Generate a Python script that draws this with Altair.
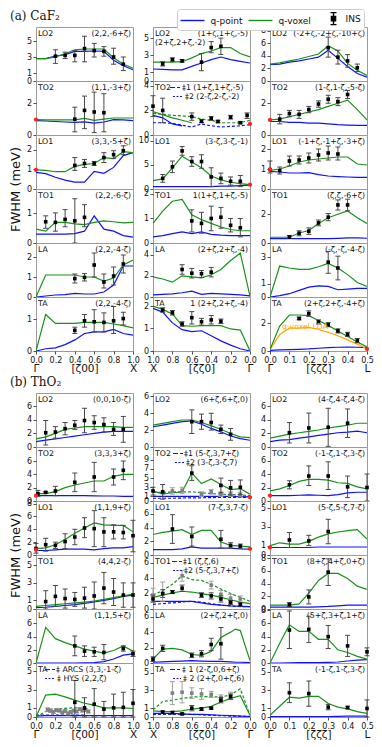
import altair as alt
import pandas as pd

FONT = "DejaVu Sans"
SERIF = "DejaVu Serif"
BLUE = "#1010ff"
GREEN = "#179117"
ORANGE = "#ffa500"
RED = "#ff2020"
W, H = 97, 54

# zeta grids along the three paths
Z_GX = [0.0, 0.1, 0.2, 0.3, 0.4, 0.5, 0.6, 0.7, 0.8, 0.9, 1.0]
Z_XG = [1.0, 0.9, 0.8, 0.7, 0.6, 0.5, 0.4, 0.3, 0.2, 0.1, 0.0]
Z_GL = [0.0, 0.05, 0.1, 0.15, 0.2, 0.25, 0.3, 0.35, 0.4, 0.45, 0.5]

LEG_NAMES = ["q-point", "q-voxel", "INS"]

# ================= (a) CaF2 =================
A1_LO2_P = [2.8, 2.8, 3.1, 3.3, 3.7, 3.7, 3.75, 3.7, 2.6, 1.9, 1.4]
A1_LO2_V = [2.8, 2.8, 3.0, 3.4, 3.9, 4.0, 4.0, 4.0, 2.9, 2.1, 1.6]
A1_LO2_INS = [(0.2, 3.1, 2.2, 3.9), (0.3, 3.2, 2.8, 3.6), (0.4, 3.2, 2.4, 3.8), (0.5, 4.05, 2.4, 5.6),
              (0.6, 3.8, 3.0, 4.7), (0.7, 3.7, 3.1, 4.3), (0.8, 3.0, 2.1, 4.1), (0.9, 2.1, 1.3, 3.0)]
A1_TO2_P = [0.9, 0.88, 0.85, 0.82, 0.8, 0.82, 0.75, 0.82, 0.97, 0.95, 0.9]
A1_TO2_V = [0.97, 0.95, 0.95, 0.95, 0.95, 1.05, 0.92, 1.0, 1.07, 1.07, 1.07]
A1_TO2_INS = [(0.4, 1.0, 0.2, 1.75), (0.5, 1.55, 0.4, 2.45), (0.6, 1.45, 0.15, 2.7), (0.7, 1.4, 0.2, 2.6)]
A1_TO2_RED = [(0.0, 0.97)]
A1_LO1_P = [0.85, 0.78, 0.6, 0.45, 0.35, 0.35, 0.9, 0.8, 1.1, 1.7, 1.85]
A1_LO1_V = [0.97, 0.95, 0.88, 0.88, 1.15, 1.25, 1.3, 1.6, 1.55, 1.9, 1.85]
A1_LO1_INS = [(0.4, 1.2, 0.95, 1.6), (0.5, 1.3, 1.1, 1.5), (0.6, 1.3, 1.2, 1.4), (0.7, 1.6, 1.35, 1.85),
              (0.8, 1.75, 1.55, 1.95), (0.9, 1.95, 1.75, 2.2)]
A1_LO1_RED = [(0.0, 0.97)]
A1_TO1_P = [0.3, 0.3, 0.3, 0.3, 0.32, 0.4, 0.92, 0.47, 0.4, 0.25, 0.2]
A1_TO1_V = [0.47, 0.4, 0.7, 0.7, 0.65, 0.62, 0.7, 0.75, 0.72, 0.68, 0.7]
A1_TO1_INS = [(0.1, 0.72, 0.5, 0.92), (0.2, 0.7, 0.4, 1.02), (0.3, 0.8, 0.55, 1.13), (0.4, 0.75, 0.0, 1.5),
              (0.5, 0.87, 0.55, 1.3)]
A1_LA_P = [0.0, 0.05, 0.1, 0.12, 0.18, 0.15, 0.15, 0.25, 0.6, 1.55, 1.55]
A1_LA_V = [0.0, 1.1, 1.1, 1.1, 1.1, 1.0, 1.0, 0.8, 0.95, 1.6, 1.85]
A1_LA_INS = [(0.4, 0.92, 0.7, 1.15), (0.5, 0.98, 0.8, 1.17), (0.6, 1.6, 1.0, 2.2), (0.7, 0.75, 0.45, 1.15),
             (0.8, 1.05, 0.6, 1.5), (0.9, 1.65, 1.2, 2.1)]
A1_TA_P = [0.0, 0.07, 0.1, 0.2, 0.35, 0.55, 0.6, 0.6, 0.68, 0.55, 0.5]
A1_TA_V = [0.0, 1.15, 0.87, 0.87, 0.87, 0.9, 0.9, 0.9, 0.85, 0.8, 0.73]
A1_TA_INS = [(0.4, 0.65, 0.55, 0.75), (0.5, 0.95, 0.75, 1.15), (0.6, 0.92, 0.6, 1.3), (0.7, 0.9, 0.6, 1.2),
             (0.8, 0.95, 0.55, 1.4), (0.9, 1.02, 0.82, 1.22)]

A2_LO2_P = [1.4, 1.35, 1.3, 1.3, 1.7, 2.1, 2.5, 2.8, 2.5, 2.3, 2.1]
A2_LO2_V = [2.2, 2.2, 2.2, 2.25, 2.7, 3.2, 3.5, 3.9, 3.9, 3.2, 2.8]
A2_LO2_INS = [(0.9, 2.0, 1.75, 2.25), (0.8, 2.5, 2.3, 2.7), (0.7, 2.35, 2.2, 2.5), (0.5, 2.2, 1.2, 3.2),
              (0.4, 3.9, 3.3, 4.6), (0.3, 4.05, 3.1, 5.0)]
A2_TO2_Z1 = [1.0, 0.9, 0.8, 0.7, 0.6]
A2_TO2_V1 = [1.9, 1.65, 1.4, 1.2, 1.0]
A2_TO2_Z1P = [1.0, 0.9, 0.8, 0.7]
A2_TO2_P1 = [1.6, 1.4, 0.9, 0.75]
A2_TO2_V2 = [1.75, 1.7, 1.6, 1.55, 1.5, 1.3, 1.2, 1.0, 1.0, 1.0, 1.2]
A2_TO2_P2 = [1.0, 1.0, 0.95, 0.8, 0.65, 0.9, 0.75, 0.65, 0.7, 0.75, 0.85]
A2_TO2_INS = [(1.0, 2.35, 1.5, 3.2), (0.9, 2.0, 1.0, 3.0), (0.6, 1.5, 1.2, 1.8), (0.5, 1.12, 1.0, 1.25),
              (0.4, 1.35, 1.2, 1.5), (0.33, 1.1, 1.0, 1.2), (0.2, 1.45, 1.3, 1.6), (0.1, 1.0, 0.92, 1.1),
              (0.03, 1.6, 1.35, 1.8)]
A2_TO2_RED = [(0.0, 0.9)]
A2_LO1_P = [0.5, 0.5, 0.5, 0.5, 0.5, 0.5, 0.5, 0.6, 0.6, 0.7, 0.8]
A2_LO1_V = [1.75, 2.1, 4.4, 6.8, 5.6, 4.4, 2.7, 1.9, 1.4, 1.1, 0.9]
A2_LO1_INS = [(0.9, 2.2, 1.4, 3.0), (0.8, 4.6, 3.4, 5.8), (0.7, 7.9, 7.0, 8.8), (0.6, 5.7, 4.7, 6.7),
              (0.5, 5.7, 4.3, 7.1), (0.4, 2.5, 0.5, 4.4), (0.3, 2.2, 1.1, 3.3), (0.2, 1.6, 0.8, 2.5),
              (0.1, 1.6, 0.5, 2.8)]
A2_LO1_RED = [(0.0, 0.9)]
A2_TO1_P = [0.25, 0.3, 0.38, 0.45, 0.38, 0.45, 0.35, 0.32, 0.3, 0.3, 0.3]
A2_TO1_V = [0.8, 1.3, 1.7, 1.78, 1.15, 0.95, 0.8, 0.65, 0.55, 0.5, 0.5]
A2_TO1_INS = [(0.6, 0.9, 0.45, 1.35), (0.5, 0.8, 0.4, 1.25), (0.4, 1.0, 0.5, 1.5), (0.3, 1.05, 0.6, 1.45),
              (0.2, 0.72, 0.45, 1.0), (0.1, 0.62, 0.25, 1.0)]
A2_LA_P = [0.2, 0.25, 0.3, 0.4, 0.55, 0.25, 0.35, 0.3, 0.25, 0.2, 0.1]
A2_LA_V = [1.9, 1.7, 1.4, 2.0, 1.9, 1.8, 2.1, 2.6, 3.45, 4.15, 0.05]
A2_LA_INS = [(0.7, 2.6, 2.15, 3.05), (0.6, 2.25, 1.8, 2.7), (0.5, 2.2, 1.85, 2.5), (0.4, 2.35, 1.9, 2.8)]
A2_TA_P = [1.9, 1.73, 1.25, 0.95, 0.86, 0.9, 0.68, 0.45, 0.26, 0.1, 0.0]
A2_TA_V = [2.0, 1.85, 1.65, 1.13, 1.1, 1.13, 1.13, 1.13, 0.98, 0.93, 0.0]
A2_TA_INS = [(0.9, 1.82, 1.72, 1.92), (0.8, 1.7, 1.6, 1.8), (0.7, 1.2, 1.1, 1.3), (0.6, 1.48, 1.2, 1.75),
             (0.5, 1.3, 1.15, 1.45), (0.4, 1.38, 1.2, 1.58), (0.3, 1.32, 1.22, 1.42)]

A3_LO2_P = [2.6, 2.7, 3.0, 3.2, 3.5, 3.8, 4.9, 3.6, 2.3, 1.2, 0.6]
A3_LO2_V = [2.7, 2.9, 3.2, 3.5, 3.9, 4.3, 5.6, 4.8, 2.8, 1.7, 0.9]
A3_LO2_INS = [(0.3, 5.3, 3.8, 7.0), (0.35, 3.8, 2.7, 4.9), (0.4, 3.2, 2.2, 4.2), (0.45, 2.1, 1.5, 2.7)]
A3_TO2_P = [0.85, 0.85, 0.8, 0.8, 0.75, 0.75, 0.7, 0.65, 0.62, 0.6, 0.6]
A3_TO2_V = [0.95, 1.0, 1.15, 1.3, 1.45, 1.6, 1.8, 2.0, 2.2, 1.6, 0.95]
A3_TO2_INS = [(0.05, 1.0, 0.7, 1.3), (0.1, 1.35, 1.15, 1.55), (0.15, 1.3, 1.05, 1.55), (0.2, 1.6, 1.4, 1.8),
              (0.25, 1.95, 1.75, 2.15), (0.3, 2.25, 2.0, 2.5), (0.35, 2.1, 1.85, 2.35), (0.4, 2.55, 2.3, 2.8)]
A3_TO2_RED = [(0.0, 0.95)]
A3_LO1_P = [0.88, 0.85, 0.8, 0.8, 0.82, 0.72, 0.65, 0.62, 0.6, 0.58, 0.58]
A3_LO1_V = [0.93, 1.0, 1.15, 1.35, 1.45, 1.5, 1.55, 1.6, 1.6, 1.25, 1.2]
A3_LO1_INS = [(0.0, 0.97, 0.8, 1.4), (0.05, 0.92, 0.75, 1.1), (0.1, 1.4, 1.15, 1.65), (0.15, 1.45, 1.25, 1.65),
              (0.2, 1.55, 1.3, 1.8), (0.25, 1.7, 1.4, 2.0), (0.3, 1.8, 1.45, 2.15), (0.35, 1.75, 1.45, 2.1)]
A3_LO1_RED = [(0.0, 0.97)]
A3_TO1_P = [0.3, 0.3, 0.3, 0.3, 0.3, 0.3, 0.3, 0.32, 0.35, 0.35, 0.33]
A3_TO1_V = [0.4, 0.4, 0.4, 0.7, 0.87, 1.36, 1.76, 2.0, 2.23, 1.76, 1.36]
A3_TO1_INS = [(0.1, 0.42, 0.32, 0.52), (0.15, 0.68, 0.5, 0.85), (0.2, 0.82, 0.6, 1.05), (0.25, 1.4, 1.2, 1.6),
              (0.3, 1.8, 1.55, 2.05), (0.35, 2.65, 2.3, 3.0), (0.4, 2.65, 2.25, 3.05)]
A3_LA_P = [0.0, 0.1, 0.25, 0.5, 0.75, 0.85, 0.8, 0.55, 0.6, 0.65, 0.65]
A3_LA_V = [0.0, 2.35, 2.2, 2.1, 2.1, 2.3, 2.55, 2.2, 1.7, 1.1, 0.8]
A3_LA_INS = [(0.3, 2.65, 1.8, 3.45), (0.35, 2.2, 1.3, 3.1)]
A3_TA_P = [0.05, 0.08, 0.1, 0.12, 0.15, 0.2, 0.25, 0.27, 0.28, 0.27, 0.25]
A3_TA_V = [0.1, 1.8, 2.6, 2.6, 2.55, 2.2, 1.85, 1.45, 1.05, 0.65, 0.3]
A3_TA_LDA = [0.1, 1.2, 1.65, 1.65, 1.7, 1.55, 1.35, 1.1, 0.8, 0.5, 0.15]
A3_TA_INS = [(0.15, 2.35, 2.25, 2.45), (0.2, 2.7, 2.5, 2.9), (0.25, 2.1, 1.95, 2.25), (0.3, 1.9, 1.75, 2.05),
             (0.35, 1.45, 1.3, 1.6), (0.4, 1.2, 1.05, 1.35), (0.45, 0.75, 0.6, 0.9)]
A3_TA_RED = [(0.5, 0.15)]

# ================= (b) ThO2 =================
B1_LO2_P = [0.8, 1.0, 1.2, 1.4, 1.6, 1.8, 2.0, 2.2, 2.3, 2.3, 2.3]
B1_LO2_V = [1.2, 1.5, 2.0, 2.6, 2.8, 3.0, 3.0, 3.0, 3.0, 2.9, 2.9]
B1_LO2_INS = [(0.1, 2.1, 0.3, 3.9), (0.2, 2.2, 1.3, 3.0), (0.3, 2.7, 1.8, 3.6), (0.4, 3.2, 2.6, 3.9),
              (0.5, 3.9, 2.1, 5.7), (0.6, 3.6, 2.6, 4.6), (0.7, 3.3, 2.2, 4.3), (0.8, 2.6, 1.7, 3.6),
              (0.9, 2.6, 0.7, 4.5)]
B1_TO2_P = [0.8, 0.8, 0.8, 0.8, 0.8, 0.8, 0.78, 0.75, 0.75, 0.7, 0.7]
B1_TO2_V = [1.1, 1.1, 1.4, 2.0, 2.4, 2.7, 3.0, 3.0, 3.7, 4.0, 4.0]
B1_TO2_INS = [(0.02, 1.1, 0.7, 1.6), (0.1, 1.3, 1.2, 1.4), (0.2, 1.5, 0.8, 2.2), (0.4, 2.8, 1.4, 4.2),
              (0.6, 3.6, 1.4, 5.8), (0.8, 3.6, 2.4, 4.8), (0.9, 4.6, 3.2, 6.0)]
B1_TO2_RED = [(0.0, 0.8)]
B1_LO1_P = [0.7, 0.7, 0.8, 0.9, 0.9, 0.9, 0.8, 1.0, 1.1, 1.1, 1.3]
B1_LO1_V = [1.0, 1.1, 1.6, 2.4, 3.4, 4.2, 5.0, 4.7, 4.6, 4.6, 3.6]
B1_LO1_INS = [(0.0, 1.0, 0.3, 1.8), (0.1, 1.6, 0.6, 2.6), (0.2, 1.5, 1.0, 2.0), (0.3, 2.1, 1.0, 3.3),
              (0.4, 2.8, 1.6, 4.0), (0.5, 4.2, 2.7, 5.8), (0.6, 4.1, 1.3, 6.9), (0.7, 3.6, 1.3, 5.8),
              (0.8, 3.6, 2.5, 4.7), (0.9, 3.5, 2.5, 4.6), (1.0, 3.0, 0.5, 5.4)]
B1_LO1_RED = [(0.0, 0.8)]
B1_TO1_P = [0.15, 0.2, 0.3, 0.4, 0.5, 0.65, 0.8, 1.0, 1.2, 1.45, 1.6]
B1_TO1_V = [0.3, 0.4, 0.5, 0.6, 0.7, 0.8, 0.9, 1.1, 1.3, 1.5, 1.7]
B1_TO1_INS = [(0.1, 0.85, 0.0, 2.1), (0.2, 1.45, 0.3, 2.7), (0.3, 1.2, 0.1, 2.3), (0.4, 1.1, 0.3, 1.9),
              (0.5, 1.25, 0.1, 2.5), (0.6, 1.5, 0.0, 3.1), (0.7, 2.4, 0.6, 4.2), (0.8, 1.95, 0.4, 3.5),
              (0.9, 1.6, 0.2, 3.0), (1.0, 1.6, 0.2, 3.0)]
B1_LA_P = [0.0, 0.0, 0.0, 0.0, 0.0, 0.02, 0.05, 0.2, 0.6, 1.2, 1.4]
B1_LA_V = [0.0, 5.4, 3.7, 3.1, 2.6, 2.1, 1.8, 1.5, 1.9, 2.6, 1.8]
B1_LA_INS = [(0.4, 2.6, 1.1, 4.1), (0.5, 1.8, 1.0, 2.6), (0.6, 1.7, 1.0, 2.4), (0.7, 1.6, 0.5, 2.8),
             (0.9, 2.2, 1.8, 2.6), (1.0, 1.4, 1.0, 1.8)]
B1_TA_P = [0.1, 0.15, 0.15, 0.15, 0.15, 0.15, 0.15, 0.15, 0.15, 0.15, 0.15]
B1_TA_V = [0.0, 2.4, 2.5, 2.2, 1.85, 1.5, 1.3, 1.0, 1.0, 1.0, 0.93]
B1_TA_Z2 = [0.0, 0.1, 0.2, 0.3, 0.4, 0.5]
B1_TA_P2 = [0.2, 0.2, 0.2, 0.2, 0.2, 0.2]
B1_TA_V2 = [0.0, 0.6, 0.85, 0.95, 1.0, 1.0]
B1_TA_INS = [(0.4, 1.6, 0.0, 4.0), (0.5, 1.0, 0.0, 2.1), (0.6, 1.4, 0.0, 3.1), (0.7, 0.85, 0.0, 1.7),
             (0.8, 1.0, 0.0, 2.5), (0.9, 1.05, 0.0, 2.7), (1.0, 1.5, 0.0, 3.0)]
B1_TA_INS2 = [(0.12, 0.8, 0.6, 1.0), (0.15, 0.7, 0.5, 0.9), (0.18, 0.55, 0.4, 0.7), (0.21, 0.75, 0.6, 0.9),
              (0.24, 0.7, 0.55, 0.85), (0.27, 0.5, 0.35, 0.65), (0.3, 0.65, 0.5, 0.8), (0.33, 0.4, 0.25, 0.55),
              (0.36, 0.55, 0.4, 0.7), (0.39, 0.7, 0.55, 0.85), (0.42, 0.6, 0.45, 0.75), (0.45, 0.85, 0.7, 1.0),
              (0.48, 0.7, 0.55, 0.85), (0.51, 0.75, 0.6, 0.9), (0.54, 0.6, 0.45, 0.75)]

B2_LO2_P = [2.4, 2.6, 2.8, 3.0, 3.1, 2.7, 2.2, 1.8, 1.3, 1.0, 0.8]
B2_LO2_V = [2.6, 2.8, 3.0, 3.2, 3.2, 2.9, 2.5, 2.1, 1.6, 1.2, 1.1]
B2_LO2_INS = [(0.6, 3.0, 1.6, 4.4), (0.5, 3.0, 2.1, 3.9), (0.4, 2.9, 2.0, 4.0), (0.3, 2.1, 1.6, 2.6),
              (0.2, 1.5, 0.8, 2.2)]
B2_TO2_P1 = [1.0, 1.0, 1.0, 1.0, 1.0, 1.0, 1.0, 1.0, 1.0, 0.95, 0.9]
B2_TO2_V1 = [2.2, 1.5, 1.8, 2.0, 6.1, 3.8, 4.8, 3.6, 2.5, 2.7, 1.5]
B2_TO2_P2 = [0.6, 0.6, 0.6, 0.65, 0.7, 0.7, 0.75, 0.8, 0.8, 0.8, 0.8]
B2_TO2_V2 = [1.9, 1.9, 2.0, 2.0, 2.0, 1.8, 1.6, 1.5, 1.4, 1.3, 1.2]
B2_TO2_INS = [(1.0, 2.2, 1.3, 3.0), (0.9, 2.0, 0.4, 3.6), (0.6, 6.1, 4.5, 7.7), (0.3, 3.4, 1.8, 5.0),
              (0.2, 2.9, 1.3, 4.5), (0.1, 3.0, 1.4, 4.6)]
B2_TO2_INS2 = [(0.8, 2.2, 1.5, 2.9), (0.7, 2.3, 1.6, 3.0), (0.5, 1.5, 1.0, 2.0), (0.4, 2.0, 1.5, 2.5),
               (0.3, 1.5, 1.0, 2.0), (0.2, 1.5, 1.0, 2.0), (0.1, 1.4, 0.9, 1.9)]
B2_TO2_RED = [(0.0, 0.8)]
B2_LO1_P = [0.8, 0.8, 0.8, 0.9, 1.2, 1.0, 1.0, 1.0, 1.0, 0.9, 0.85]
B2_LO1_V = [3.0, 3.3, 3.5, 3.7, 3.0, 3.6, 3.6, 1.9, 1.4, 1.3, 1.2]
B2_LO1_INS = [(0.8, 3.8, 1.7, 5.9), (0.6, 2.7, 1.3, 4.1), (0.3, 2.3, 1.0, 3.6), (0.2, 1.4, 1.0, 1.8),
              (0.1, 1.3, 1.0, 1.6)]
B2_LO1_RED = [(0.0, 0.9)]
B2_TO1_P1 = [1.0, 1.0, 1.0, 1.0, 1.0, 0.8, 0.6, 0.5, 0.4, 0.35, 0.3]
B2_TO1_V1 = [1.5, 1.8, 2.1, 2.3, 2.2, 2.0, 1.8, 1.5, 1.2, 0.9, 0.7]
B2_TO1_P2 = [0.6, 0.7, 0.8, 0.9, 1.0, 0.9, 0.7, 0.5, 0.4, 0.3, 0.3]
B2_TO1_V2 = [1.8, 2.4, 3.2, 4.3, 3.8, 3.7, 3.2, 2.6, 2.0, 1.5, 1.0]
B2_TO1_INS = [(1.0, 1.3, 0.9, 1.7), (0.9, 2.0, 1.5, 2.5), (0.8, 2.2, 2.0, 2.4), (0.7, 2.7, 2.3, 3.1),
              (0.5, 1.8, 1.5, 2.1), (0.4, 1.7, 1.3, 2.1), (0.3, 1.3, 0.9, 1.7), (0.2, 0.85, 0.6, 1.1),
              (0.1, 0.6, 0.4, 0.8)]
B2_TO1_INS2 = [(1.0, 1.8, 0.9, 2.7), (0.9, 2.0, 1.0, 3.5), (0.7, 4.3, 3.6, 5.0), (0.4, 3.1, 2.6, 3.6),
               (0.3, 1.9, 1.4, 2.4), (0.2, 1.4, 0.9, 1.9), (0.1, 1.3, 0.9, 1.7)]
B2_LA_Z = [1.0, 0.9, 0.8, 0.7, 0.6, 0.5, 0.4, 0.3, 0.2, 0.15, 0.1, 0.0]
B2_LA_P = [0.1, 0.15, 0.2, 0.25, 0.3, 0.25, 0.2, 0.2, 0.15, 0.1, 0.1, 0.05]
B2_LA_V = [0.5, 1.8, 1.9, 1.7, 1.1, 1.0, 1.5, 3.3, 4.0, 4.4, 4.2, 0.3]
B2_LA_INS = [(1.0, 0.5, 0.2, 0.8), (0.9, 1.9, 1.5, 2.3), (0.6, 1.0, 0.7, 1.3), (0.5, 1.2, 0.8, 1.6),
             (0.4, 2.4, 1.6, 3.2), (0.3, 2.5, 0.5, 4.6)]
B2_TA_P1 = [0.4, 0.4, 0.4, 0.35, 0.3, 0.3, 0.25, 0.2, 0.15, 0.1, 0.05]
B2_TA_V1 = [0.7, 0.6, 0.6, 0.7, 0.9, 1.0, 1.2, 1.7, 2.1, 2.4, 0.2]
B2_TA_P2 = [0.3, 0.3, 0.3, 0.3, 0.3, 0.25, 0.2, 0.15, 0.1, 0.1, 0.05]
B2_TA_V2 = [0.8, 1.75, 1.9, 2.1, 2.25, 2.3, 2.3, 2.25, 2.5, 3.2, 0.2]
B2_TA_INS = [(0.9, 0.55, 0.4, 0.7), (0.8, 0.5, 0.35, 0.65), (0.7, 0.35, 0.25, 0.45), (0.6, 1.0, 0.7, 1.3),
             (0.5, 0.9, 0.75, 1.05), (0.4, 1.0, 0.9, 1.1), (0.3, 1.9, 1.6, 2.2), (0.2, 2.3, 2.0, 2.6)]
B2_TA_INS2 = [(0.8, 2.7, 1.4, 4.0), (0.7, 2.8, 1.6, 4.0), (0.6, 2.7, 2.1, 3.3), (0.5, 2.6, 2.0, 3.2),
              (0.4, 2.55, 2.2, 2.9), (0.3, 2.2, 1.9, 2.5), (0.2, 2.4, 2.0, 2.8)]

B3_LO2_P = [0.8, 1.0, 1.1, 1.3, 1.5, 1.7, 1.9, 2.1, 2.2, 2.35, 2.1]
B3_LO2_V = [1.3, 1.6, 1.9, 2.1, 2.3, 2.5, 2.8, 3.0, 3.2, 3.5, 3.5]
B3_LO2_INS = [(0.1, 2.1, 0.6, 3.6), (0.2, 2.8, 0.6, 5.0), (0.3, 2.9, 0.1, 5.7), (0.4, 3.5, 1.4, 5.6)]
B3_TO2_P = [0.8, 0.8, 0.8, 0.85, 0.9, 0.85, 0.8, 0.95, 1.2, 1.3, 1.3]
B3_TO2_V = [1.5, 1.8, 2.3, 2.9, 3.2, 3.2, 3.1, 2.7, 2.6, 2.1, 1.8]
B3_TO2_INS = [(0.1, 2.4, 1.8, 3.0), (0.2, 3.7, 2.3, 5.2), (0.3, 3.7, 1.7, 5.8), (0.4, 2.1, 0.5, 3.7),
              (0.5, 2.0, 0.0, 4.0)]
B3_TO2_RED = [(0.0, 0.8)]
B3_LO1_P = [0.8, 0.8, 0.8, 0.8, 0.8, 0.85, 0.85, 0.85, 0.85, 0.85, 0.85]
B3_LO1_V = [1.0, 1.3, 1.15, 1.15, 1.45, 1.9, 2.25, 2.45, 2.6, 2.7, 1.7]
B3_LO1_INS = [(0.1, 1.6, 0.8, 2.4), (0.2, 1.5, 1.0, 2.1), (0.3, 2.5, 1.2, 3.8)]
B3_LO1_RED = [(0.0, 0.8)]
B3_TO1_P = [0.3, 0.3, 0.3, 0.3, 0.3, 0.35, 0.4, 0.5, 0.6, 0.6, 0.6]
B3_TO1_V = [0.6, 0.6, 0.6, 0.8, 2.5, 4.5, 5.6, 5.6, 4.8, 3.6, 3.1]
B3_TO1_INS = [(0.1, 0.7, 0.4, 1.0), (0.2, 1.9, 0.8, 3.0), (0.3, 5.8, 3.7, 7.9)]
B3_LA_P = [0.0, 0.0, 0.02, 0.05, 0.05, 0.05, 0.1, 0.15, 0.3, 0.45, 0.5]
B3_LA_V = [0.0, 3.0, 5.8, 4.8, 4.8, 3.6, 3.6, 2.0, 1.6, 1.0, 0.6]
B3_LA_INS = [(0.1, 5.0, 2.2, 7.9), (0.2, 5.1, 3.1, 7.1), (0.3, 4.0, 2.2, 5.7), (0.4, 2.6, 1.0, 4.2),
             (0.5, 1.7, 1.1, 2.3)]
B3_TA_P = [0.05, 0.05, 0.05, 0.05, 0.05, 0.05, 0.05, 0.08, 0.1, 0.1, 0.1]
B3_TA_V = [0.2, 1.2, 2.2, 2.1, 2.3, 2.3, 1.5, 1.1, 0.9, 0.6, 0.4]
B3_TA_INS = [(0.1, 2.7, 1.6, 3.8), (0.2, 2.6, 1.2, 4.0), (0.3, 1.1, 0.8, 1.4), (0.4, 1.05, 0.9, 1.2),
             (0.5, 0.95, 0.0, 1.9)]

SUB1 = [(17, 27, 6.5, [5, 2]), (20, 30, 15.5, [2, 1.5])]

CAF2 = [
    [
        dict(ymax=6.75, ticks=[0, 1, 3, 5], q="(2,2,-6+ζ)", lines=[(Z_GX, A1_LO2_P, "p"), (Z_GX, A1_LO2_V, "v")], ins=A1_LO2_INS),
        dict(ymax=3.4, ticks=[0, 2], q="(1,1,-3+ζ)", lines=[(Z_GX, A1_TO2_P, "p"), (Z_GX, A1_TO2_V, "v")], ins=A1_TO2_INS, red=A1_TO2_RED),
        dict(ymax=2.75, ticks=[0, 1, 2], q="(3,3,-5+ζ)", lines=[(Z_GX, A1_LO1_P, "p"), (Z_GX, A1_LO1_V, "v")], ins=A1_LO1_INS, red=A1_LO1_RED),
        dict(ymax=1.83, ticks=[0, 1], q="(2,2,-6-ζ)", lines=[(Z_GX, A1_TO1_P, "p"), (Z_GX, A1_TO1_V, "v")], ins=A1_TO1_INS),
        dict(ymax=2.7, ticks=[0, 1, 2], q="(2,2,-4-ζ)", lines=[(Z_GX, A1_LA_P, "p"), (Z_GX, A1_LA_V, "v")], ins=A1_LA_INS),
        dict(ymax=1.7, ticks=[0, 1], q="(2,2,-4-ζ)", lines=[(Z_GX, A1_TA_P, "p"), (Z_GX, A1_TA_V, "v")], ins=A1_TA_INS),
    ],
    [
        dict(ymax=6.3, ticks=[0, 1, 3, 5], q="(1+ζ,1+ζ,-5)", lines=[(Z_XG, A2_LO2_P, "p"), (Z_XG, A2_LO2_V, "v")], ins=A2_LO2_INS,
             extra=[("(2+ζ,2+ζ,-2)", 2, 15.5, "left", "#111")]),
        dict(ymax=4.4, ticks=[0, 2, 4], q=None,
             lines=[(A2_TO2_Z1P, A2_TO2_P1, "p"), (Z_XG, A2_TO2_P2, "p2"), (A2_TO2_Z1, A2_TO2_V1, "v"), (Z_XG, A2_TO2_V2, "v2")],
             ins=A2_TO2_INS, red=A2_TO2_RED,
             extra=[("‡1 (1+ζ,1+ζ,-5)", 29, 6.5, "left", "#111"), ("‡2 (2-ζ,2-ζ,-2)", 32, 15.5, "left", "#111")], samples=SUB1),
        dict(ymax=11.2, ticks=[0, 5, 10], q="(3-ζ,3-ζ,-1)", lines=[(Z_XG, A2_LO1_P, "p"), (Z_XG, A2_LO1_V, "v")], ins=A2_LO1_INS, red=A2_LO1_RED),
        dict(ymax=2.2, ticks=[0, 1, 2], q="1(1+ζ,1+ζ,-5)", lines=[(Z_XG, A2_TO1_P, "p"), (Z_XG, A2_TO1_V, "v")], ins=A2_TO1_INS),
        dict(ymax=5.1, ticks=[0, 2, 4], q="(2+ζ,2+ζ,-4)", lines=[(Z_XG, A2_LA_P, "p"), (Z_XG, A2_LA_V, "v")], ins=A2_LA_INS),
        dict(ymax=2.4, ticks=[0, 1, 2], q="1 (2+ζ,2+ζ,-4)", lines=[(Z_XG, A2_TA_P, "p"), (Z_XG, A2_TA_V, "v")], ins=A2_TA_INS),
    ],
    [
        dict(ymax=8.6, ticks=[0, 2, 4, 6, 8], q="(-2+ζ,-2+ζ,-10+ζ)", lines=[(Z_GL, A3_LO2_P, "p"), (Z_GL, A3_LO2_V, "v")], ins=A3_LO2_INS),
        dict(ymax=3.4, ticks=[0, 2], q="(1-ζ,1-ζ,-5-ζ)", lines=[(Z_GL, A3_TO2_P, "p"), (Z_GL, A3_TO2_V, "v")], ins=A3_TO2_INS, red=A3_TO2_RED),
        dict(ymax=2.7, ticks=[0, 1, 2], q="(-1+ζ,-1+ζ,-3+ζ)", lines=[(Z_GL, A3_LO1_P, "p"), (Z_GL, A3_LO1_V, "v")], ins=A3_LO1_INS, red=A3_LO1_RED),
        dict(ymax=3.76, ticks=[0, 2], q="(ζ,ζ,-6+ζ)", lines=[(Z_GL, A3_TO1_P, "p"), (Z_GL, A3_TO1_V, "v")], ins=A3_TO1_INS),
        dict(ymax=4.1, ticks=[0, 1, 3], q="(-ζ,-ζ,-4-ζ)", lines=[(Z_GL, A3_LA_P, "p"), (Z_GL, A3_LA_V, "v")], ins=A3_LA_INS),
        dict(ymax=3.9, ticks=[0, 2], q="(2+ζ,2+ζ,-4+ζ)", lines=[(Z_GL, A3_TA_P, "p"), (Z_GL, A3_TA_LDA, "lda"), (Z_GL, A3_TA_V, "v")],
             ins=A3_TA_INS, red=A3_TA_RED, extra=[("q-voxel LDA", 12, 30, "left", ORANGE)]),
    ],
]

THO2 = [
    [
        dict(ymax=7.95, ticks=[0, 2, 4, 6], q="(0,0,10-ζ)", lines=[(Z_GX, B1_LO2_P, "p"), (Z_GX, B1_LO2_V, "v")], ins=B1_LO2_INS),
        dict(ymax=8.1, ticks=[0, 2, 4, 6], q="(3,3,3+ζ)", lines=[(Z_GX, B1_TO2_P, "p"), (Z_GX, B1_TO2_V, "v")], ins=B1_TO2_INS, red=B1_TO2_RED),
        dict(ymax=8.4, ticks=[0, 2, 4, 6, 8], q="(1,1,9+ζ)", lines=[(Z_GX, B1_LO1_P, "p"), (Z_GX, B1_LO1_V, "v")], ins=B1_LO1_INS, red=B1_LO1_RED),
        dict(ymax=6.2, ticks=[0, 1, 3, 5], q="(4,4,2-ζ)", lines=[(Z_GX, B1_TO1_P, "p"), (Z_GX, B1_TO1_V, "v")], ins=B1_TO1_INS),
        dict(ymax=8.2, ticks=[0, 2, 4, 6], q="(1,1,5+ζ)", lines=[(Z_GX, B1_LA_P, "p"), (Z_GX, B1_LA_V, "v")], ins=B1_LA_INS),
        dict(ymax=5.9, ticks=[0, 1, 3, 5], q=None,
             lines=[(Z_GX, B1_TA_P, "p"), (B1_TA_Z2, B1_TA_P2, "p2"), (Z_GX, B1_TA_V, "v"), (B1_TA_Z2, B1_TA_V2, "v2")],
             ins=B1_TA_INS, ins2=B1_TA_INS2,
             extra=[("‡ ARCS (3,3,-1-ζ)", 20, 6.5, "left", "#111"), ("‡ HYS (2,2,ζ)", 21, 15.5, "left", "#111")],
             samples=[(9, 19, 6.5, [5, 2]), (9, 19, 15.5, [2, 1.5])]),
    ],
    [
        dict(ymax=6.4, ticks=[0, 2, 4, 6], q="(6+ζ,6+ζ,0)", lines=[(Z_XG, B2_LO2_P, "p"), (Z_XG, B2_LO2_V, "v")], ins=B2_LO2_INS),
        dict(ymax=11.8, ticks=[0, 1, 3, 5, 7, 9], q=None,
             lines=[(Z_XG, B2_TO2_P1, "p"), (Z_XG, B2_TO2_P2, "p2"), (Z_XG, B2_TO2_V1, "v"), (Z_XG, B2_TO2_V2, "v2")],
             ins=B2_TO2_INS, ins2=B2_TO2_INS2, red=B2_TO2_RED,
             extra=[("‡1 (5-ζ,3,7+ζ)", 31, 6.5, "left", "#111"), ("‡2 (3-ζ,3-ζ,7)", 33, 15.5, "left", "#111")],
             samples=[(20, 30, 6.5, [5, 2]), (22, 32, 15.5, [2, 1.5])]),
        dict(ymax=7.9, ticks=[0, 2, 4, 6], q="(7-ζ,3,7-ζ)", lines=[(Z_XG, B2_LO1_P, "p"), (Z_XG, B2_LO1_V, "v")], ins=B2_LO1_INS, red=B2_LO1_RED),
        dict(ymax=7.0, ticks=[0, 2, 4, 6], q=None,
             lines=[(Z_XG, B2_TO1_P1, "p"), (Z_XG, B2_TO1_P2, "p2"), (Z_XG, B2_TO1_V1, "v"), (Z_XG, B2_TO1_V2, "v2")],
             ins=B2_TO1_INS, ins2=B2_TO1_INS2,
             extra=[("‡1 (ζ,ζ,6)", 30, 6.5, "left", "#111"), ("‡2 (5-ζ,3,7+ζ)", 31, 15.5, "left", "#111")],
             samples=[(19, 29, 6.5, [5, 2]), (20, 30, 15.5, [2, 1.5])]),
        dict(ymax=7.0, ticks=[0, 2, 4, 6], q="(2+ζ,2+ζ,0)", lines=[(B2_LA_Z, B2_LA_P, "p"), (B2_LA_Z, B2_LA_V, "v")], ins=B2_LA_INS),
        dict(ymax=6.1, ticks=[0, 1, 3, 5], q=None,
             lines=[(Z_XG, B2_TA_P1, "p"), (Z_XG, B2_TA_P2, "p2"), (Z_XG, B2_TA_V1, "v"), (Z_XG, B2_TA_V2, "v2")],
             ins=B2_TA_INS, ins2=B2_TA_INS2,
             extra=[("‡ 1 (2-ζ,0,6+ζ)", 29, 6.5, "left", "#111"), ("‡ 2 (2+ζ,0+ζ,6)", 30, 15.5, "left", "#111")],
             samples=[(17, 27, 6.5, [5, 2]), (20, 28, 15.5, [2, 1.5])]),
    ],
    [
        dict(ymax=7.95, ticks=[0, 2, 4, 6], q="(4-ζ,4-ζ,4-ζ)", lines=[(Z_GL, B3_LO2_P, "p"), (Z_GL, B3_LO2_V, "v")], ins=B3_LO2_INS),
        dict(ymax=8.0, ticks=[0, 2, 4, 6], q="(-1-ζ,1-ζ,3-ζ)", lines=[(Z_GL, B3_TO2_P, "p"), (Z_GL, B3_TO2_V, "v")], ins=B3_TO2_INS, red=B3_TO2_RED),
        dict(ymax=5.75, ticks=[0, 1, 3, 5], q="(5-ζ,5-ζ,7-ζ)", lines=[(Z_GL, B3_LO1_P, "p"), (Z_GL, B3_LO1_V, "v")], ins=B3_LO1_INS, red=B3_LO1_RED),
        dict(ymax=8.5, ticks=[0, 2, 4, 6, 8], q="(8+ζ,4+ζ,0+ζ)", lines=[(Z_GL, B3_TO1_P, "p"), (Z_GL, B3_TO1_V, "v")], ins=B3_TO1_INS),
        dict(ymax=8.2, ticks=[0, 2, 4, 6, 8], q="(5+ζ,3+ζ,1+ζ)", lines=[(Z_GL, B3_LA_P, "p"), (Z_GL, B3_LA_V, "v")], ins=B3_LA_INS),
        dict(ymax=6.0, ticks=[0, 1, 3, 5], q="(-1-ζ,1-ζ,3-ζ)", lines=[(Z_GL, B3_TA_P, "p"), (Z_GL, B3_TA_V, "v")], ins=B3_TA_INS),
    ],
]

STYLE = {"p": (BLUE, None), "v": (GREEN, None), "p2": (BLUE, [3, 2]), "v2": (GREEN, [3, 2]), "lda": (ORANGE, None)}
XDOM = {0: dict(domain=[0, 1]), 1: dict(domain=[0, 1], reverse=True), 2: dict(domain=[0, 0.5])}
XTICKS = {0: [0, 0.2, 0.4, 0.6, 0.8, 1.0], 1: [0, 0.2, 0.4, 0.6, 0.8, 1.0], 2: [0, 0.1, 0.2, 0.3, 0.4, 0.5]}
PATH_VALUES = {0: [0, 0.5, 1], 1: [0, 0.5, 1], 2: [0, 0.25, 0.5]}
PATH_EXPR = {
    0: "datum.value == 0 ? 'Γ' : (datum.value == 1 ? 'X' : '[ζ00]')",
    1: "datum.value == 0 ? 'Γ' : (datum.value == 1 ? 'X' : '[ζζ0]')",
    2: "datum.value == 0 ? 'Γ' : (datum.value == 0.5 ? 'L' : '[ζζζ]')",
}
MODES = ["LO2", "TO2", "LO1", "TO1", "LA", "TA"]


def txt(s, x, y, align="left", color="#111", size=7.8, font=FONT):
    return alt.Chart(pd.DataFrame({"t": [s]})).mark_text(
        align=align, baseline="middle", font=font, fontSize=size, color=color
    ).encode(x=alt.value(x), y=alt.value(y), text="t:N")


def make_panel(p, mode, col, bottom, ytitle):
    xsc = alt.Scale(nice=False, zero=False, **XDOM[col])
    ysc = alt.Scale(domain=[0, p["ymax"]], nice=False, zero=False)
    yax = dict(values=p["ticks"], labelOverlap=False, tickSize=3, labelPadding=1.5, labelFontSize=8,
               orient="left", labelBound=False)
    if ytitle:
        yax.update(title="FWHM (meV)", titleX=-14, titleY=H, titleFontSize=13, titleFontWeight="normal",
                   titleBaseline="bottom", titleAlign="center", titleAngle=270, titleFont=FONT, titleColor="#111")
    else:
        yax.update(title=None)
    if bottom:
        xax = alt.Axis(values=XTICKS[col], format=".1f", orient="bottom", labelFlush=False, labelOverlap=False,
                       tickSize=3, labelPadding=2, title=None, labelFontSize=8)
    else:
        xax = None
    fx, fy = p["lines"][0][0], p["lines"][0][1]
    frame_df = pd.DataFrame({"x": fx, "y": fy})
    layers = [alt.Chart(frame_df).mark_point(opacity=0).encode(
        x=alt.X("x:Q", scale=xsc, axis=xax), y=alt.Y("y:Q", scale=ysc, axis=alt.Axis(**yax)))]
    X = alt.X("x:Q", scale=xsc, axis=None)
    for xs, ys, st in p["lines"]:
        color, dash = STYLE[st]
        mk = dict(color=color, strokeWidth=1.2, clip=True)
        if dash:
            mk["strokeDash"] = dash
        layers.append(alt.Chart(pd.DataFrame({"x": xs, "y": ys})).mark_line(**mk).encode(
            x=X, y=alt.Y("y:Q", scale=ysc, axis=None)))
    for key, mcol, ecol in (("ins2", "#808080", "#a0a0a0"), ("ins", "black", "#484848")):
        rows = p.get(key)
        if not rows:
            continue
        base = alt.Chart(pd.DataFrame(rows, columns=["x", "y", "lo", "hi"]))
        layers.append(base.mark_rule(color=ecol, strokeWidth=1).encode(
            x=X, y=alt.Y("lo:Q", scale=ysc, axis=None), y2="hi:Q"))
        layers.append(base.transform_fold(["lo", "hi"], as_=["k", "v"]).mark_tick(
            orient="horizontal", size=5, thickness=1, color=ecol, opacity=1).encode(
            x=X, y=alt.Y("v:Q", scale=ysc, axis=None)))
        layers.append(base.mark_square(size=13, color=mcol, opacity=1).encode(
            x=X, y=alt.Y("y:Q", scale=ysc, axis=None)))
    if p.get("red"):
        layers.append(alt.Chart(pd.DataFrame(p["red"], columns=["x", "y"])).mark_circle(
            size=18, color=RED, opacity=1).encode(x=X, y=alt.Y("y:Q", scale=ysc, axis=None)))
    layers.append(txt(mode, 2, 6.5))
    if p.get("q"):
        layers.append(txt(p["q"], W - 2, 6.5, align="right"))
    for s, x, y, al, c in p.get("extra", []):
        layers.append(txt(s, x, y, align=al, color=c))
    for x1, x2, y, dash in p.get("samples", []):
        layers.append(alt.Chart(pd.DataFrame({"t": [0]})).mark_rule(
            color=BLUE, strokeWidth=1.2, strokeDash=dash).encode(
            x=alt.value(x1), x2=alt.value(x2), y=alt.value(y)))
    if bottom:
        layers.append(alt.Chart(frame_df).mark_point(opacity=0).encode(
            x=alt.X("x:Q", scale=xsc, axis=alt.Axis(
                values=PATH_VALUES[col], labelExpr=PATH_EXPR[col], orient="bottom", ticks=False,
                labelPadding=12, labelFontSize=10.5, labelFlush=False, labelOverlap=False, title=None)),
            y=alt.Y("y:Q", scale=ysc, axis=None)))
    ch = alt.layer(*layers).properties(
        width=W, height=H, view=alt.ViewBackground(stroke="#9a9a9a", strokeWidth=1))
    if bottom:
        ch = ch.resolve_axis(x="independent", y="independent")
    else:
        ch = ch.resolve_axis(y="independent")
    return ch


def blank(h):
    return alt.Chart(pd.DataFrame({"t": [""]})).mark_text().encode(text="t:N").properties(width=W, height=h)


LINE_PATH = "M-1,0H3"
INS_PATH = "M1.65,-0.35H2.35V0.35H1.65Z M2,-1V1 M1.5,-1H2.5 M1.5,1H2.5"


def legend_cell(h):
    leg = alt.Legend(orient="none", legendX=141, legendY=0, direction="horizontal", title=None,
                     symbolSize=144, symbolStrokeWidth=1.4, labelFontSize=9, labelFont=FONT,
                     labelColor="#111", labelOffset=17, columnPadding=3, padding=2.5,
                     strokeColor="#cccccc", cornerRadius=3, fillColor="white")
    df = pd.DataFrame({"x": [2.0, 2.0, 2.0], "kind": LEG_NAMES})
    pt = alt.Chart(df).mark_point(clip=True, opacity=1).encode(
        x=alt.X("x:Q", scale=alt.Scale(domain=[0, 1]), axis=None),
        shape=alt.Shape("kind:N", scale=alt.Scale(domain=LEG_NAMES, range=[LINE_PATH, LINE_PATH, INS_PATH]), legend=leg),
        stroke=alt.Stroke("kind:N", scale=alt.Scale(domain=LEG_NAMES, range=[BLUE, GREEN, "black"]), legend=leg),
        fill=alt.Fill("kind:N", scale=alt.Scale(domain=LEG_NAMES, range=["transparent", "transparent", "black"]), legend=leg),
    )
    return pt.properties(width=W, height=h)


HEAD_A = 18
HEAD_B = 42

cells = [
    txt("(a) CaF₂", -26, 7, size=12, font=SERIF).properties(width=W, height=HEAD_A),
    legend_cell(HEAD_A),
    blank(HEAD_A),
]
for r, mode in enumerate(MODES):
    for c in range(3):
        cells.append(make_panel(CAF2[c][r], mode, c, r == 5, c == 0 and r == 2))
cells += [
    txt("(b) ThO₂", -26, 31, size=12, font=SERIF).properties(width=W, height=HEAD_B),
    blank(HEAD_B),
    blank(HEAD_B),
]
for r, mode in enumerate(MODES):
    for c in range(3):
        cells.append(make_panel(THO2[c][r], mode, c, r == 5, c == 0 and r == 2))

chart = alt.concat(*cells, columns=3, spacing={"row": 0, "column": 20}, bounds="flush").properties(
    padding=0
).configure_view(stroke="transparent").configure_axis(
    labelFont=FONT, labelColor="#111", tickColor="#222", tickWidth=0.8, domain=False, grid=False
)

chart.save("out.html", embed_options={"renderer": "svg", "actions": False})
